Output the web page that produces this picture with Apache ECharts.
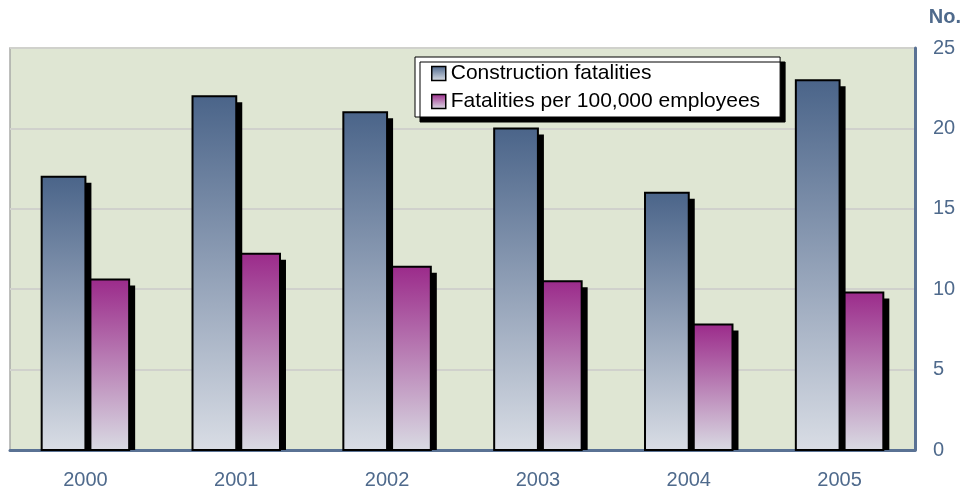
<!DOCTYPE html>
<html>
<head>
<meta charset="utf-8">
<script src="https://cdn.jsdelivr.net/npm/echarts@6/dist/echarts.min.js"></script>
<style>
  html, body { margin: 0; padding: 0; background: #fff; }
  #chart { width: 966px; height: 494px; }
</style>
</head>
<body>
<div id="chart"></div>
<script>
const years = ['2000', '2001', '2002', '2003', '2004', '2005']
const fatalities = [17, 22, 21, 20, 16, 23]
const per100k = [10.6, 12.2, 11.4, 10.5, 7.8, 9.8]

const chart = echarts.init(document.getElementById('chart'))

const grad = (top, bottom) => new echarts.graphic.LinearGradient(0, 0, 0, 1, [
  { offset: 0, color: top },
  { offset: 1, color: bottom }
])

const labelColor = '#4f6a8c'
const font = 'Liberation Sans'
const blue = grad('#4a6489', '#d9dde5')
const purple = grad('#9b2a8a', '#d9dbe3')

// bar with a hard black drop shadow, side = -1 left of centre, 0 right of centre
const barRenderer = (side, fill) => (params, api) => {
  const catIdx = api.value(0)
  const top = api.coord([catIdx, api.value(1)])
  const base = api.coord([catIdx, 0])
  const bw = api.size([1, 0])[0] * 0.29
  const x = top[0] + side * bw
  const h = base[1] - top[1]
  return {
    type: 'group',
    children: [
      {
        type: 'rect',
        shape: { x: x + 6, y: top[1] + 6, width: bw, height: h - 6 },
        style: { fill: '#000' }
      },
      {
        type: 'rect',
        shape: { x: x, y: top[1], width: bw, height: h },
        style: { fill: fill, stroke: '#000', lineWidth: 2 }
      }
    ]
  }
}

const option = {
  animation: false,
  title: {
    text: 'No.',
    right: 0,
    top: 2,
    textStyle: { color: labelColor, fontSize: 20, fontWeight: 'bold', fontFamily: font }
  },
  legend: {
    orient: 'vertical',
    left: 415,
    top: 57,
    padding: [6, 20, 5, 16],
    itemGap: 7,
    itemWidth: 14,
    itemHeight: 14,
    icon: 'rect',
    backgroundColor: '#fff',
    borderColor: '#000',
    borderWidth: 1,
    shadowColor: '#000',
    shadowBlur: 0,
    shadowOffsetX: 5,
    shadowOffsetY: 5,
    textStyle: { color: '#000', fontSize: 21, fontFamily: font },
    data: [
      { name: 'Construction fatalities', itemStyle: { color: grad('#4a6489', '#dde1e8'), borderColor: '#000', borderWidth: 1.5 } },
      { name: 'Fatalities per 100,000 employees', itemStyle: { color: grad('#9b2a8a', '#dde1e8'), borderColor: '#000', borderWidth: 1.5 } }
    ]
  },
  grid: {
    left: 10,
    right: 51,
    top: 48,
    bottom: 44,
    show: true,
    backgroundColor: '#dfe6d3',
    borderColor: '#a9aaa8',
    borderWidth: 1.5
  },
  xAxis: {
    type: 'category',
    data: years,
    axisLine: { lineStyle: { color: '#5a7294', width: 3 } },
    axisTick: { show: false },
    axisLabel: { color: labelColor, fontSize: 20, margin: 20, fontFamily: font }
  },
  yAxis: {
    type: 'value',
    position: 'right',
    min: 0,
    max: 25,
    interval: 5,
    axisLine: { show: true, lineStyle: { color: '#5a7294', width: 3 } },
    axisTick: { show: false },
    axisLabel: { color: labelColor, fontSize: 20, margin: 18, fontFamily: font },
    splitLine: { lineStyle: { color: '#d0d1cc', width: 2 } }
  },
  series: [
    {
      name: 'Construction fatalities',
      type: 'custom',
      renderItem: barRenderer(-1, blue),
      itemStyle: { color: '#4a6489' },
      encode: { x: 0, y: 1 },
      data: fatalities.map((v, i) => [i, v]),
      z: 3
    },
    {
      name: 'Fatalities per 100,000 employees',
      type: 'custom',
      renderItem: barRenderer(0, purple),
      itemStyle: { color: '#9b2a8a' },
      encode: { x: 0, y: 1 },
      data: per100k.map((v, i) => [i, v]),
      z: 2
    }
  ]
}

chart.setOption(option)
</script>
</body>
</html>
